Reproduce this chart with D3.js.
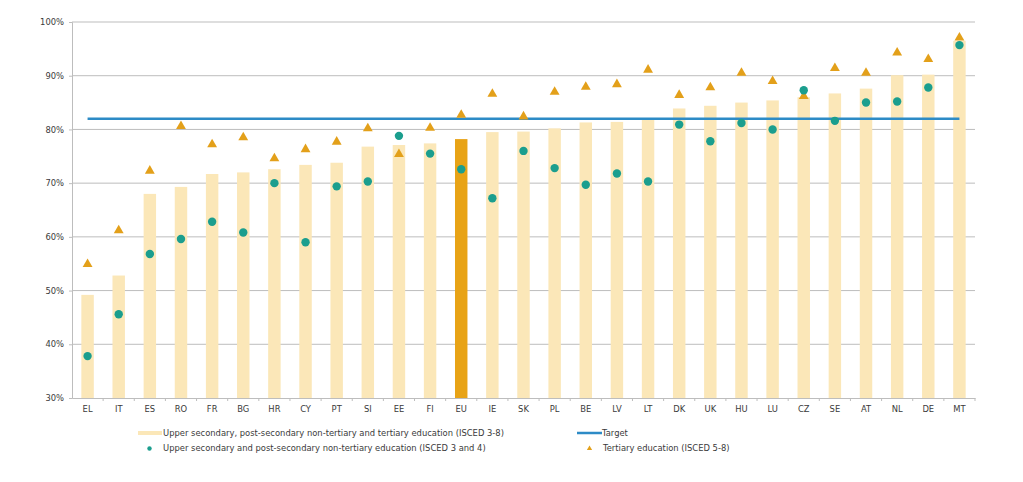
<!DOCTYPE html>
<html><head><meta charset="utf-8">
<script src="https://cdn.jsdelivr.net/npm/d3@7"></script>
<style>
body{margin:0;background:#fff;}
svg text{font-family:"DejaVu Sans",Verdana,sans-serif;}
</style></head>
<body><svg id="c" width="1023" height="482"></svg>
<script>
const categories = ["EL","IT","ES","RO","FR","BG","HR","CY","PT","SI","EE","FI","EU","IE","SK","PL","BE","LV","LT","DK","UK","HU","LU","CZ","SE","AT","NL","DE","MT"];
const total38 = [49.2,52.8,68.0,69.3,71.7,72.0,72.6,73.4,73.8,76.8,77.1,77.4,78.2,79.5,79.6,80.2,81.3,81.4,81.8,83.9,84.4,85.0,85.4,86.0,86.7,87.6,90.1,90.2,96.5];
const isced34 = [37.8,45.6,56.8,59.6,62.8,60.8,70.0,59.0,69.4,70.3,78.8,75.5,72.6,67.2,76.0,72.8,69.7,71.8,70.3,80.9,77.8,81.2,80.0,87.3,81.6,85.0,85.2,87.8,95.7];
const tertiary = [54.9,61.2,72.3,80.6,77.2,78.5,74.6,76.3,77.7,80.2,75.4,80.3,82.7,86.6,82.4,87.0,87.9,88.4,91.1,86.4,87.8,90.5,89.0,86.2,91.4,90.5,94.3,93.1,97.1];
const target = 82;
const yTicks = [30,40,50,60,70,80,90,100];
const legendLabels = ["Upper secondary, post-secondary non-tertiary and tertiary education (ISCED 3-8)","Target","Upper secondary and post-secondary non-tertiary education (ISCED 3 and 4)","Tertiary education (ISCED 5-8)"];

const svg = d3.select("#c");
const m = {l:72, r:48, t:22, b:84};
const W = 1023, H = 482;
const x = d3.scaleBand().domain(categories).range([m.l, W-m.r]).paddingInner(0.6).paddingOuter(0.3);
const xb = d3.scaleBand().domain(categories).range([m.l, W-m.r]);
const y = d3.scaleLinear().domain([30,100]).range([H-m.b, m.t]);

const cBar="#FBE7B8", cEU="#E8A316", cDot="#1B9E8E", cTri="#E3A01A", cTarget="#2D8BC6", cGrid="#BDBDBD", cText="#3a3a3a";
const fs = 8.4;

// gridlines
svg.append("g").selectAll("line").data(yTicks.slice(1)).join("line")
  .attr("x1", m.l).attr("x2", W-m.r).attr("y1", d=>y(d)).attr("y2", d=>y(d))
  .attr("stroke", cGrid).attr("stroke-width", 1);

// y axis
const ya = svg.append("g").attr("transform",`translate(${m.l},0)`)
  .call(d3.axisLeft(y).tickValues(yTicks).tickFormat(d=>d+"%").tickSize(3).tickPadding(5));
ya.select(".domain").attr("stroke", cGrid);
ya.selectAll(".tick line").attr("stroke", cGrid);
ya.selectAll("text").attr("font-size", fs).attr("fill", cText);

// bars
svg.append("g").selectAll("rect").data(categories).join("rect")
  .attr("x", d=>x(d)).attr("width", x.bandwidth())
  .attr("y", (d,i)=>y(total38[i])).attr("height", (d,i)=>y(30)-y(total38[i]))
  .attr("fill", d=>d==="EU"?cEU:cBar);

// x axis
const xa = svg.append("g").attr("transform",`translate(0,${y(30)})`)
  .call(d3.axisBottom(xb).tickSize(0).tickPadding(8));
xa.select(".domain").attr("stroke", cGrid);
xa.selectAll("text").attr("font-size", fs).attr("fill", cText);
svg.append("g").selectAll("line").data(categories).join("line")
  .attr("x1", (d,i)=>xb(d)+xb.step()).attr("x2", (d,i)=>xb(d)+xb.step())
  .attr("y1", y(30)).attr("y2", y(30)+3).attr("stroke", cGrid);

// target line
svg.append("line")
  .attr("x1", xb(categories[0])+xb.bandwidth()/2).attr("x2", xb(categories[categories.length-1])+xb.bandwidth()/2)
  .attr("y1", y(target)).attr("y2", y(target))
  .attr("stroke", cTarget).attr("stroke-width", 2.5);

// triangles
const tri = d3.symbol().type(d3.symbolTriangle).size(42);
svg.append("g").selectAll("path").data(categories).join("path")
  .attr("d", tri)
  .attr("transform", (d,i)=>`translate(${xb(d)+xb.bandwidth()/2},${y(tertiary[i])})`)
  .attr("fill", cTri);

// circles
svg.append("g").selectAll("circle").data(categories).join("circle")
  .attr("cx", d=>xb(d)+xb.bandwidth()/2).attr("cy", (d,i)=>y(isced34[i]))
  .attr("r", 4.2).attr("fill", cDot);

// legend
const lg = svg.append("g").attr("font-size", fs).attr("fill", cText);
const r1 = 433, r2 = 448.5;
lg.append("line").attr("x1",138).attr("x2",162).attr("y1",r1).attr("y2",r1).attr("stroke",cBar).attr("stroke-width",4);
lg.append("text").attr("x",163).attr("y",r1).attr("dy","0.35em").attr("fill",cText).text(legendLabels[0]);
lg.append("line").attr("x1",577).attr("x2",602).attr("y1",r1).attr("y2",r1).attr("stroke",cTarget).attr("stroke-width",2.5);
lg.append("text").attr("x",602).attr("y",r1).attr("dy","0.35em").attr("fill",cText).text(legendLabels[1]);
lg.append("circle").attr("cx",149.5).attr("cy",r2).attr("r",2.2).attr("fill",cDot);
lg.append("text").attr("x",163).attr("y",r2).attr("dy","0.35em").attr("fill",cText).text(legendLabels[2]);
lg.append("path").attr("d", d3.symbol().type(d3.symbolTriangle).size(12)).attr("transform",`translate(589.5,${r2})`).attr("fill",cTri);
lg.append("text").attr("x",603).attr("y",r2).attr("dy","0.35em").attr("fill",cText).text(legendLabels[3]);
</script></body></html>
